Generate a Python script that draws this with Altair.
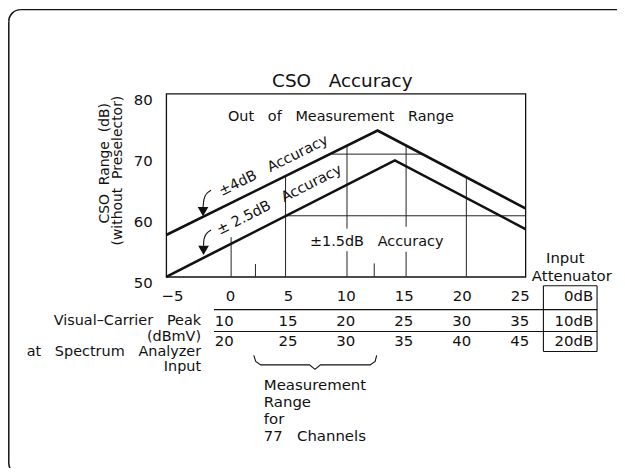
import math
import altair as alt
import pandas as pd

FONT = "DejaVu Sans"
INK = "#111111"
NB = "\u00a0"


def gap(n):
    return NB * n


# ---------------- values ----------------
title_text = "CSO" + gap(3) + "Accuracy"
y_title_lines = ["CSO" + gap(2) + "Range" + gap(2) + "(dB)", "(without" + gap(2) + "Preselector)"]

x_ticks = [-5, 0, 5, 10, 15, 20, 25]      # visual-carrier peak with 0 dB attenuator
y_ticks = [50, 60, 70, 80]                 # CSO range (dB)
row_10dB = [10, 15, 20, 25, 30, 35]
row_20dB = [20, 25, 30, 35, 40, 45]
attenuator = ["0dB", "10dB", "20dB"]
left_labels = ["Visual\u2013Carrier" + gap(3) + "Peak", "(dBmV)",
               "at" + gap(3) + "Spectrum" + gap(3) + "Analyzer", "Input"]
brace_labels = ["Measurement", "Range", "for", "77" + gap(3) + "Channels"]
region_labels = ["Out" + gap(3) + "of" + gap(3) + "Measurement" + gap(3) + "Range",
                 "\u00b11.5dB" + gap(3) + "Accuracy",
                 "\u00b14dB" + gap(3) + "Accuracy",
                 "\u00b1" + NB + "2.5dB" + gap(3) + "Accuracy"]

# accuracy limits: +-4 dB (upper) and +-2.5 dB (lower)
upper_x = [-5.5, 12.74, 25.5]
upper_y = [56.85, 73.97, 61.2]
lower_x = [-5.5, 14.23, 25.5]
lower_y = [50.0, 69.08, 57.83]

# region borders inside the plot
seg_x1 = [4.8, 8.8, 0.1, 2.2, 4.8, 10.1, 10.1, 12.45, 15.2, 15.2, 20.4]
seg_y1 = [60.0, 70.1, 50, 50, 50, 57.9, 50, 50, 58.2, 50, 50]
seg_x2 = [25.5, 16.5, 0.1, 2.2, 4.8, 10.1, 10.1, 12.45, 15.2, 15.2, 20.4]
seg_y2 = [60.0, 70.1, 56.5, 52.1, 66.5, 71.5, 54.2, 52.2, 71.5, 54.1, 66.3]

# ---------------- layout (same x / y units, extended beyond the plot) ----------------
X_DOM = [-5.5, 25.5]
Y_DOM = [50, 80]
col_x = [-0.5, 5, 10, 15, 20, 25]
row2_y, row3_y, row1_y = 42.71, 39.4, 46.9
line_rows_y = [44.62, 41.03]
table_x1, table_x2 = -1.38, 31.68
box_x1, box_x2, box_y1, box_y2 = 27.05, 31.68, 37.77, 48.53
box_text_x = 31.35
left_x = -2.49
left_y = [42.71, 40.2, 37.7, 35.2]
brace_x = [2.057, 2.229, 2.658, 6.866, 7.338, 7.81, 12.1, 12.53, 12.66]
brace_y = [37.12, 36.14, 35.57, 35.57, 34.83, 35.57, 35.57, 36.14, 37.12]
brace_text_x = 2.92
brace_text_y = [32.23, 29.45, 26.68, 23.91]
arrow1_x = [-1.636, -2.022, -2.237, -2.323]
arrow1_y = [64.18, 63.61, 62.72, 61.4]
arrow2_x = [-1.636, -2.022, -2.237, -2.28]
arrow2_y = [57.66, 57.09, 56.19, 55.1]
head_x = [-2.323, -2.28]
head_y = [60.7, 54.35]

X_SCALE = alt.Scale(domain=X_DOM, nice=False, zero=False)
Y_SCALE = alt.Scale(domain=Y_DOM, nice=False, zero=False)
X_AXIS = alt.Axis(values=x_ticks, title=None, ticks=False, tickSize=0, domain=False, grid=False,
                  labelFontSize=15, labelFont=FONT, labelColor=INK, labelPadding=19,
                  labelBaseline="middle", labelFlush=False, labelOverlap=False)
Y_AXIS = alt.Axis(values=y_ticks, title=None, ticks=False, tickSize=0, domain=False, grid=False,
                  labelFontSize=15, labelFont=FONT, labelColor=INK, labelPadding=14,
                  labelBaseline="middle", labelOffset=6, labelOverlap=False)


def X(field="x"):
    return alt.X(f"{field}:Q", scale=X_SCALE, axis=X_AXIS)


def Y(field="y"):
    return alt.Y(f"{field}:Q", scale=Y_SCALE, axis=Y_AXIS)


def texts(labels, xs, ys, align="center", size=15, angle=0, baseline="middle"):
    df = pd.DataFrame({"label": labels, "x": xs, "y": ys})
    return alt.Chart(df).mark_text(align=align, baseline=baseline, font=FONT, fontSize=size,
                                   angle=angle, color=INK).encode(x=X(), y=Y(), text="label:N")


# boundary lines
bounds = pd.DataFrame({
    "x": upper_x + lower_x,
    "y": upper_y + lower_y,
    "s": ["upper"] * 3 + ["lower"] * 3,
})
bound_layer = alt.Chart(bounds).mark_line(color=INK, strokeWidth=2.6).encode(
    x=X(), y=Y(), detail="s:N")

segs = pd.DataFrame({"x": seg_x1, "y": seg_y1, "x2": seg_x2, "y2": seg_y2})
seg_layer = alt.Chart(segs).mark_rule(color="#222222", strokeWidth=1).encode(
    x=X(), y=Y(), x2="x2:Q", y2="y2:Q")

# table rules and attenuator box
tab = pd.DataFrame({
    "x": [table_x1, table_x1, box_x1, box_x1, box_x2, box_x1],
    "x2": [table_x2, table_x2, box_x2, box_x2, box_x2, box_x1],
    "y": line_rows_y + [box_y2, box_y1, box_y1, box_y1],
    "y2": line_rows_y + [box_y2, box_y1, box_y2, box_y2],
})
tab_layer = alt.Chart(tab).mark_rule(color=INK, strokeWidth=1.1).encode(
    x=X(), y=Y(), x2="x2:Q", y2="y2:Q")

# brace and arrows
brace = pd.DataFrame({"x": brace_x, "y": brace_y, "o": list(range(len(brace_x)))})
brace_layer = alt.Chart(brace).mark_line(color=INK, strokeWidth=1.1).encode(
    x=X(), y=Y(), order="o:Q")
arrows = pd.DataFrame({
    "x": arrow1_x + arrow2_x,
    "y": arrow1_y + arrow2_y,
    "p": ["a1"] * len(arrow1_x) + ["a2"] * len(arrow2_x),
    "o": list(range(len(arrow1_x))) + list(range(len(arrow2_x))),
})
arrow_layer = alt.Chart(arrows).mark_line(
    color=INK, strokeWidth=1.1, interpolate="natural").encode(x=X(), y=Y(), detail="p:N", order="o:Q")
heads = pd.DataFrame({"x": head_x, "y": head_y})
head_layer = alt.Chart(heads).mark_point(shape="triangle-down", filled=True, color=INK,
                                         size=115, opacity=1).encode(x=X(), y=Y())

# page frame (only its top and left sides fall inside the picture)
ONE = alt.Data(values=[{}])
FR_L, FR_T, FR_R, FR_B = -158.2, -84.5, 12, 371
frame_top = alt.Chart(ONE).mark_rule(color=INK, strokeWidth=1.5).encode(
    x=alt.value(FR_L + FR_R), x2=alt.value(470), y=alt.value(FR_T))
frame_left = alt.Chart(ONE).mark_rule(color=INK, strokeWidth=1.5).encode(
    x=alt.value(FR_L), y=alt.value(FR_T + FR_R), y2=alt.value(FR_B))
corner_tl = alt.Chart(ONE).mark_arc(radius=FR_R + 0.75, radius2=FR_R - 0.75, fill=INK,
                                    theta=1.5 * math.pi, theta2=2 * math.pi).encode(
    x=alt.value(FR_L + FR_R), y=alt.value(FR_T + FR_R))
corner_bl = alt.Chart(ONE).mark_arc(radius=FR_R + 0.75, radius2=FR_R - 0.75, fill=INK,
                                    theta=math.pi, theta2=1.5 * math.pi).encode(
    x=alt.value(FR_L + FR_R), y=alt.value(FR_B))

layers = [
    frame_top, frame_left, corner_tl, corner_bl,
    seg_layer,
    bound_layer,
    tab_layer,
    brace_layer,
    arrow_layer,
    head_layer,
    texts([title_text], [9.7], [82.12], size=18.5),
    texts([y_title_lines[0]], [-10.82], [68.6], angle=270, size=14),
    texts([y_title_lines[1]], [-9.62], [67.4], angle=270, size=14),
    texts([region_labels[0]], [9.57], [76.14], size=14.5),
    texts([region_labels[1]], [12.66], [55.62], size=14.5),
    texts([region_labels[2]], [3.77], [68.15], size=14.5, angle=333.7),
    texts([region_labels[3]], [4.27], [62.55], size=14.5, angle=333),
    texts([str(v) for v in row_10dB], col_x, [row2_y] * 6),
    texts([str(v) for v in row_20dB], col_x, [row3_y] * 6),
    texts(attenuator, [box_text_x] * 3, [row1_y, row2_y, row3_y], align="right"),
    texts(left_labels, [left_x] * 4, left_y, align="right", size=14.5),
    texts(brace_labels, [brace_text_x] * 4, brace_text_y, align="left"),
    texts(["Input"], [28.94], [53.1]),
    texts(["Attenuator"], [29.5], [50.16]),
]

chart = alt.layer(*layers).properties(
    width=361, height=184,
    autosize=alt.AutoSizeParams(type="none"),
    padding={"left": 159, "top": 85, "right": 92, "bottom": 191},
    background="white",
).configure_view(stroke=INK, strokeWidth=1.3)

chart.save("out.html", embed_options={"renderer": "svg", "actions": False})
